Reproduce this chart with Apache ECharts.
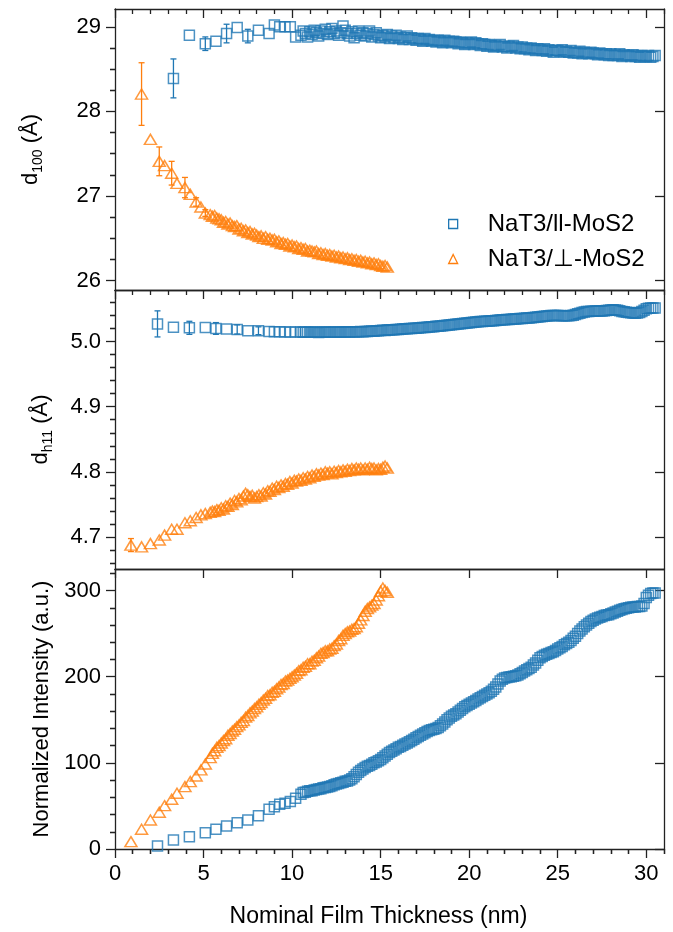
<!DOCTYPE html>
<html>
<head>
<meta charset="utf-8">
<script src="https://cdn.jsdelivr.net/npm/echarts@6.0.0/dist/echarts.min.js"></script>
<style>
  html, body { margin: 0; padding: 0; background: #fff; }
  #chart { width: 673px; height: 932px; }
</style>
</head>
<body>
<div id="chart"></div>
<script>
// ---- data ----
const NAME_PAR = 'NaT3/ll-MoS2'
const NAME_PERP = 'NaT3/⊥-MoS2'

// nominal thickness (nm); the first 15 (blue) / 12 (orange) entries are the sparse early points
const blueX = [2.4, 3.3, 4.2, 5.1, 5.7, 6.3, 6.9, 7.5, 8.1, 8.7, 9.0, 9.3, 9.6, 9.9, 10.2,
  10.5, 10.625, 10.75, 10.875,
  11, 11.125, 11.25, 11.375, 11.5, 11.625, 11.75, 11.875,
  12, 12.125, 12.25, 12.375, 12.5, 12.625, 12.75, 12.875,
  13, 13.125, 13.25, 13.375, 13.5, 13.625, 13.75, 13.875,
  14, 14.125, 14.25, 14.375, 14.5, 14.625, 14.75, 14.875,
  15, 15.125, 15.25, 15.375, 15.5, 15.625, 15.75, 15.875,
  16, 16.125, 16.25, 16.375, 16.5, 16.625, 16.75, 16.875,
  17, 17.125, 17.25, 17.375, 17.5, 17.625, 17.75, 17.875,
  18, 18.125, 18.25, 18.375, 18.5, 18.625, 18.75, 18.875,
  19, 19.125, 19.25, 19.375, 19.5, 19.625, 19.75, 19.875,
  20, 20.125, 20.25, 20.375, 20.5, 20.625, 20.75, 20.875,
  21, 21.125, 21.25, 21.375, 21.5, 21.625, 21.75, 21.875,
  22, 22.125, 22.25, 22.375, 22.5, 22.625, 22.75, 22.875,
  23, 23.125, 23.25, 23.375, 23.5, 23.625, 23.75, 23.875,
  24, 24.125, 24.25, 24.375, 24.5, 24.625, 24.75, 24.875,
  25, 25.125, 25.25, 25.375, 25.5, 25.625, 25.75, 25.875,
  26, 26.125, 26.25, 26.375, 26.5, 26.625, 26.75, 26.875,
  27, 27.125, 27.25, 27.375, 27.5, 27.625, 27.75, 27.875,
  28, 28.125, 28.25, 28.375, 28.5, 28.625, 28.75, 28.875,
  29, 29.125, 29.25, 29.375, 29.5, 29.625, 29.75, 29.875,
  30, 30.125, 30.25, 30.375, 30.5]
const orangeX = [0.9, 1.5, 2.0, 2.5, 2.8, 3.2, 3.5, 3.95, 4.25, 4.58, 4.85, 5.1,
  5.375, 5.5, 5.625, 5.75, 5.875,
  6, 6.125, 6.25, 6.375, 6.5, 6.625, 6.75, 6.875,
  7, 7.125, 7.25, 7.375, 7.5, 7.625, 7.75, 7.875,
  8, 8.125, 8.25, 8.375, 8.5, 8.625, 8.75, 8.875,
  9, 9.125, 9.25, 9.375, 9.5, 9.625, 9.75, 9.875,
  10, 10.125, 10.25, 10.375, 10.5, 10.625, 10.75, 10.875,
  11, 11.125, 11.25, 11.375, 11.5, 11.625, 11.75, 11.875,
  12, 12.125, 12.25, 12.375, 12.5, 12.625, 12.75, 12.875,
  13, 13.125, 13.25, 13.375, 13.5, 13.625, 13.75, 13.875,
  14, 14.125, 14.25, 14.375, 14.5, 14.625, 14.75, 14.875,
  15, 15.125, 15.25, 15.375]

// d100 (Å)
const d100Blue = [null, 28.39, 28.90, 28.80, 28.83, 28.92, 28.99, 28.89, 28.96, 28.92, 29.02, 29.00, 29.00, 29.00, 28.88,
  28.90, 28.95, 28.92, 28.88,
  28.94, 28.91, 28.96, 28.93, 28.89, 28.95, 28.92, 28.97,
  28.91, 28.94, 28.98, 28.92, 28.95, 28.90, 28.93, 29.01,
  28.96, 28.92, 28.89, 28.94, 28.87, 28.92, 28.95, 28.90,
  28.93, 28.89, 28.92, 28.95, 28.88, 28.91, 28.93, 28.89,
  28.87, 28.90, 28.88, 28.91, 28.86, 28.89, 28.87, 28.90,
  28.86, 28.88, 28.85, 28.87, 28.89, 28.85, 28.87, 28.86,
  28.84, 28.86, 28.85, 28.83, 28.86, 28.84, 28.85, 28.83,
  28.84, 28.82, 28.84, 28.83, 28.81, 28.84, 28.82, 28.83,
  28.81, 28.83, 28.82, 28.80, 28.82, 28.81, 28.79, 28.81,
  28.80, 28.82, 28.79, 28.81, 28.80, 28.78, 28.80, 28.79,
  28.77, 28.79, 28.78, 28.76, 28.78, 28.77, 28.79, 28.76,
  28.77, 28.75, 28.77, 28.76, 28.78, 28.75, 28.76, 28.74,
  28.76, 28.74, 28.75, 28.73, 28.75, 28.74, 28.72, 28.74,
  28.73, 28.72, 28.74, 28.71, 28.73, 28.72, 28.70, 28.72,
  28.72, 28.71, 28.73, 28.70, 28.71, 28.70, 28.72, 28.69,
  28.70, 28.69, 28.71, 28.68, 28.70, 28.69, 28.68, 28.70,
  28.69, 28.68, 28.67, 28.69, 28.68, 28.67, 28.68, 28.66,
  28.68, 28.66, 28.67, 28.66, 28.68, 28.65, 28.67, 28.66,
  28.66, 28.65, 28.67, 28.65, 28.66, 28.64, 28.66, 28.65,
  28.65, 28.66, 28.64, 28.65, 28.66]
const d100Orange = [null, 28.205, 27.67, 27.41, 27.36, 27.27, 27.15, 27.10, 27.02, 26.93, 26.87, 26.80,
  26.78, 26.76, 26.77, 26.74, 26.73,
  26.72, 26.69, 26.70, 26.67, 26.68, 26.65, 26.64, 26.65,
  26.61, 26.62, 26.59, 26.60, 26.57, 26.58, 26.55, 26.56,
  26.54, 26.52, 26.53, 26.50, 26.52, 26.49, 26.50, 26.48,
  26.49, 26.46, 26.47, 26.44, 26.45, 26.43, 26.44, 26.41,
  26.42, 26.40, 26.41, 26.38, 26.39, 26.37, 26.38, 26.35,
  26.36, 26.35, 26.34, 26.35, 26.32, 26.33, 26.31, 26.32,
  26.30, 26.31, 26.29, 26.30, 26.28, 26.29, 26.27, 26.28,
  26.26, 26.27, 26.25, 26.26, 26.24, 26.25, 26.23, 26.24,
  26.22, 26.23, 26.21, 26.22, 26.20, 26.21, 26.19, 26.20,
  26.18, 26.17, 26.18, 26.16]
const d100BlueErr = [0, 0.23, 0, 0.08, 0, 0.11, 0, 0.08, 0, 0, 0, 0, 0, 0, 0]
const d100OrangeErr = [0, 0.37, 0, 0.17, 0, 0.14, 0, 0.12, 0, 0.05, 0, 0.04]

// dh11 (Å)
const dh11Blue = [5.027, 5.022, 5.021, 5.0215, 5.020, 5.019, 5.0185, 5.0165, 5.0165, 5.0155, 5.015, 5.015, 5.0145, 5.0145, 5.0145,
  5.0145, 5.0142, 5.0146, 5.0141,
  5.0143, 5.0140, 5.0144, 5.0142, 5.0139, 5.0143, 5.0141, 5.0144,
  5.0140, 5.0143, 5.0141, 5.0145, 5.0142, 5.0146, 5.0143, 5.0147,
  5.0144, 5.0148, 5.0146, 5.0150, 5.0147, 5.0151, 5.0149, 5.0153,
  5.0151, 5.0155, 5.0153, 5.0158, 5.0160, 5.0158, 5.0163, 5.0165,
  5.0167, 5.0171, 5.0170, 5.0175, 5.0176, 5.0180, 5.0181, 5.0185,
  5.0184, 5.0189, 5.0190, 5.0194, 5.0195, 5.0199, 5.0198, 5.0203,
  5.0204, 5.0208, 5.0209, 5.0213, 5.0215, 5.0220, 5.0221, 5.0226,
  5.0227, 5.0232, 5.0232, 5.0238, 5.0241, 5.0247, 5.0251, 5.0255,
  5.0257, 5.0262, 5.0264, 5.0268, 5.0271, 5.0276, 5.0279, 5.0284,
  5.0287, 5.0292, 5.0295, 5.0299, 5.0302, 5.0306, 5.0307, 5.0310,
  5.0311, 5.0315, 5.0317, 5.0320, 5.0321, 5.0326, 5.0329, 5.0333,
  5.0335, 5.0338, 5.0339, 5.0342, 5.0344, 5.0347, 5.0349, 5.0352,
  5.0354, 5.0358, 5.0359, 5.0362, 5.0364, 5.0368, 5.0371, 5.0376,
  5.0379, 5.0384, 5.0387, 5.0391, 5.0394, 5.0397, 5.0397, 5.0399,
  5.0398, 5.0397, 5.0396, 5.0395, 5.0394, 5.0396, 5.0399, 5.0404,
  5.0413, 5.0424, 5.0434, 5.0445, 5.0454, 5.0459, 5.0462, 5.0463,
  5.0465, 5.0466, 5.0466, 5.0467, 5.0469, 5.0472, 5.0477, 5.0481,
  5.0485, 5.0487, 5.0485, 5.0479, 5.0470, 5.0462, 5.0455, 5.0450,
  5.0445, 5.0440, 5.0437, 5.0435, 5.0438, 5.0445, 5.0462, 5.0480,
  5.0502, 5.0510, 5.0514, 5.0515, 5.0515]
const dh11Orange = [4.6877, 4.685, 4.690, 4.6954, 4.703, 4.712, 4.712, 4.722, 4.725, 4.730, 4.734, 4.736,
  4.738, 4.740, 4.739, 4.742, 4.741,
  4.745, 4.743, 4.748, 4.747, 4.752, 4.750, 4.756, 4.754,
  4.759, 4.757, 4.763, 4.767, 4.765, 4.762, 4.764, 4.760,
  4.762, 4.765, 4.763, 4.768, 4.766, 4.771, 4.770, 4.775,
  4.773, 4.778, 4.776, 4.780, 4.778, 4.782, 4.781, 4.785,
  4.783, 4.787, 4.786, 4.789, 4.787, 4.791, 4.789, 4.793,
  4.791, 4.795, 4.793, 4.797, 4.795, 4.798, 4.796, 4.800,
  4.798, 4.800, 4.797, 4.801, 4.799, 4.802, 4.800, 4.803,
  4.801, 4.804, 4.802, 4.805, 4.803, 4.806, 4.804, 4.806,
  4.803, 4.806, 4.804, 4.807, 4.805, 4.806, 4.803, 4.805,
  4.804, 4.807, 4.809, 4.806]
const dh11BlueErr = [0.020, 0, 0.010, 0, 0.009, 0, 0.007, 0, 0.006, 0, 0, 0, 0, 0, 0]
const dh11OrangeErr = [0.010, 0, 0, 0, 0, 0, 0, 0, 0, 0, 0, 0]

// normalized intensity (a.u.)
const intBlue = [3.5, 10.5, 14.3, 19, 22.9, 26.7, 30.6, 33.7, 38.7, 46, 49, 51.8, 53, 55, 58.8,
  63.5, 65.5, 66, 67,
  67.5, 67.5, 68.5, 69, 69.5, 70, 71, 71.5,
  72, 72.5, 73.5, 74.5, 75.5, 76, 77, 77.5,
  78.5, 79, 80, 81.5, 84, 86.5, 89, 91,
  93, 94.5, 96, 97, 98.5, 100, 101, 102.5,
  104, 106, 108, 110, 112, 113.5, 115, 116.5,
  118, 119, 120.5, 122, 123, 124.5, 126, 127.5,
  129, 130.5, 132, 133.5, 135, 136.5, 137.5, 138.5,
  139, 140, 141, 143, 145, 147.5, 150, 152,
  154, 155.5, 157, 159, 161, 163, 165, 166.5,
  168, 169.5, 171, 172.5, 174, 175.5, 177, 178.5,
  180, 181.5, 183, 185.5, 188, 191.5, 195, 197,
  198.5, 199, 199.5, 200, 200.5, 201, 202, 203.5,
  205, 206.5, 208, 209.5, 211, 213.5, 216, 219,
  222, 223.5, 225, 226, 227, 228, 229, 230.5,
  232, 233.5, 235, 237, 238.5, 240, 242, 244.5,
  247, 250, 253, 255.5, 258, 260, 262, 264,
  265.5, 267, 268, 269, 270, 271, 271.5, 272,
  273, 274, 275, 276, 277, 278, 279, 279.5,
  280, 280.5, 281, 281, 281.5, 281.5, 282, 285,
  292, 294.5, 296.5, 297, 297]
const intOrange = [8.5, 22.9, 33.7, 42.6, 50.3, 57.7, 64.7, 72.4, 78.2, 84.8, 91.8, 98.7,
  106, 111, 114, 118, 120,
  123, 126, 128, 132, 134, 137, 139, 142,
  144, 147, 149, 153, 155, 158, 160, 163,
  165, 168, 170, 173, 175, 178, 179, 182,
  183, 186, 188, 191, 192, 195, 196, 198,
  200, 202, 204, 207, 208, 211, 212, 215,
  215, 218, 219, 222, 224, 227, 228, 230,
  230, 232, 233, 236, 238, 242, 244, 248,
  250, 252, 253, 255, 256, 258, 262, 266,
  271, 276, 279, 281, 283, 285, 289, 294,
  299, 303, 300, 298]

// ticks
const xMajor = [0, 5, 10, 15, 20, 25, 30]
const xMinor = [1, 2, 3, 4, 6, 7, 8, 9, 11, 12, 13, 14, 16, 17, 18, 19, 21, 22, 23, 24, 26, 27, 28, 29, 31]
const d100Major = [26, 27, 28, 29]
const d100Minor = [26.25, 26.5, 26.75, 27.25, 27.5, 27.75, 28.25, 28.5, 28.75]
const dh11Major = [4.7, 4.8, 4.9, 5.0]
const dh11Minor = [4.66, 4.68, 4.72, 4.74, 4.76, 4.78, 4.82, 4.84, 4.86, 4.88, 4.92, 4.94, 4.96, 4.98, 5.02, 5.04, 5.06]
const intMajor = [0, 100, 200, 300]
const intMinor = [20, 40, 60, 80, 120, 140, 160, 180, 220, 240, 260, 280, 320]

// ---- chart ----
const BLUE = '#1f77b4'
const ORANGE = '#ff7f0e'
const AXIS = '#222'
const FONT = '"Liberation Sans", Arial, sans-serif'

const panels = [
  { top: 9, height: 281, min: 25.89, max: 29.21, major: d100Major, minor: d100Minor, digits: 0,
    name: '{b|d}{s|100}{b| (Å)}', gap: 70, blue: d100Blue, orange: d100Orange, blueErr: d100BlueErr, orangeErr: d100OrangeErr },
  { top: 290, height: 279, min: 4.651, max: 5.079, major: dh11Major, minor: dh11Minor, digits: 1,
    name: '{b|d}{s|h11}{b| (Å)}', gap: 60, blue: dh11Blue, orange: dh11Orange, blueErr: dh11BlueErr, orangeErr: dh11OrangeErr },
  { top: 569, height: 280, min: 0, max: 325, major: intMajor, minor: intMinor, digits: 0,
    name: 'Normalized Intensity (a.u.)', gap: 60, blue: intBlue, orange: intOrange, blueErr: null, orangeErr: null }
]

const grid = []
const xAxis = []
const yAxis = []
const series = []

function tickStyle(values, len, inside) {
  return { show: true, inside: inside, length: len, customValues: values, lineStyle: { color: AXIS, width: 1.3 } }
}

function pairs(xs, ys) {
  const out = []
  xs.forEach((x, i) => { if (ys[i] != null) out.push([x, ys[i]]) })
  return out
}

function errData(xs, ys, errs) {
  const out = []
  if (!errs) return out
  errs.forEach((e, i) => { if (e > 0 && ys[i] != null) out.push([xs[i], ys[i], e]) })
  return out
}

function errorBars(name, color, data, xi, yi) {
  return {
    type: 'custom', name: name, xAxisIndex: xi, yAxisIndex: yi, data: data, z: 3,
    encode: { x: 0, y: 1 },
    renderItem(params, api) {
      const x = api.value(0), y = api.value(1), e = api.value(2)
      const hi = api.coord([x, y + e])
      const lo = api.coord([x, y - e])
      const w = 3
      const st = { stroke: color, lineWidth: 1.3 }
      return {
        type: 'group',
        children: [
          { type: 'line', shape: { x1: hi[0], y1: hi[1], x2: lo[0], y2: lo[1] }, style: st },
          { type: 'line', shape: { x1: hi[0] - w, y1: hi[1], x2: hi[0] + w, y2: hi[1] }, style: st },
          { type: 'line', shape: { x1: lo[0] - w, y1: lo[1], x2: lo[0] + w, y2: lo[1] }, style: st }
        ]
      }
    }
  }
}

panels.forEach((p, g) => {
  grid.push({ left: 115, width: 549, top: p.top, height: p.height })
  const last = g === panels.length - 1
  const base = { type: 'value', gridIndex: g, min: 0, max: 31, splitLine: { show: false }, axisLine: { show: false }, axisLabel: { show: false } }

  // bottom x axis (labels only on the last panel)
  const xi = xAxis.length
  xAxis.push(Object.assign({}, base, {
    position: 'bottom',
    axisLine: { show: true, onZero: false, lineStyle: { color: AXIS, width: 1.3 } },
    axisTick: last ? tickStyle(xMajor, 9, false) : { show: false },
    axisLabel: last ? { show: true, customValues: xMajor, margin: 14, fontSize: 22, fontFamily: FONT, color: '#000' } : { show: false },
    name: last ? 'Nominal Film Thickness (nm)' : '',
    nameLocation: 'middle', nameGap: 56,
    nameTextStyle: { fontSize: 23, fontFamily: FONT, color: '#000', padding: [0, 22, 0, 0] }
  }))
  if (last) xAxis.push(Object.assign({}, base, { position: 'bottom', axisTick: tickStyle(xMinor, 5, false) }))
  // top x axis, inward ticks
  xAxis.push(Object.assign({}, base, {
    position: 'top',
    axisLine: { show: true, onZero: false, lineStyle: { color: AXIS, width: 1.3 } },
    axisTick: tickStyle(xMajor, 9, true)
  }))
  xAxis.push(Object.assign({}, base, { position: 'top', axisTick: tickStyle(xMinor, 5, true) }))

  const ybase = { type: 'value', gridIndex: g, min: p.min, max: p.max, splitLine: { show: false }, axisLine: { show: false }, axisLabel: { show: false } }
  const yi = yAxis.length
  yAxis.push(Object.assign({}, ybase, {
    position: 'left',
    axisLine: { show: true, onZero: false, lineStyle: { color: AXIS, width: 1.3 } },
    axisTick: tickStyle(p.major, 9, false),
    axisLabel: {
      show: true, customValues: p.major, margin: 14, fontSize: 22, fontFamily: FONT, color: '#000',
      formatter: v => Number(v).toFixed(p.digits)
    },
    name: p.name, nameLocation: 'middle', nameGap: p.gap,
    nameTextStyle: {
      fontSize: 22, fontFamily: FONT, color: '#000',
      rich: {
        b: { fontSize: 22, fontFamily: FONT, color: '#000', lineHeight: 28 },
        s: { fontSize: 14, fontFamily: FONT, color: '#000', lineHeight: 14, verticalAlign: 'bottom' }
      }
    }
  }))
  yAxis.push(Object.assign({}, ybase, { position: 'left', axisTick: tickStyle(p.minor, 5, false) }))
  yAxis.push(Object.assign({}, ybase, {
    position: 'right',
    axisLine: { show: true, onZero: false, lineStyle: { color: AXIS, width: 1.3 } },
    axisTick: tickStyle(p.major, 9, true)
  }))
  yAxis.push(Object.assign({}, ybase, { position: 'right', axisTick: tickStyle(p.minor, 5, true) }))

  series.push(errorBars(NAME_PAR, BLUE, errData(blueX, p.blue, p.blueErr), xi, yi))
  series.push(errorBars(NAME_PERP, ORANGE, errData(orangeX, p.orange, p.orangeErr), xi, yi))
  series.push({
    type: 'scatter', name: NAME_PAR, xAxisIndex: xi, yAxisIndex: yi,
    data: pairs(blueX, p.blue), symbol: 'rect', symbolSize: 10,
    itemStyle: { color: 'rgba(0,0,0,0)', borderColor: BLUE, borderWidth: 1.5 }
  })
  series.push({
    type: 'scatter', name: NAME_PERP, xAxisIndex: xi, yAxisIndex: yi,
    data: pairs(orangeX, p.orange), symbol: 'triangle', symbolSize: [12, 10],
    itemStyle: { color: 'rgba(0,0,0,0)', borderColor: ORANGE, borderWidth: 1.5 }
  })
})

const chart = echarts.init(document.getElementById('chart'))
chart.setOption({
  animation: false,
  backgroundColor: '#fff',
  grid: grid,
  xAxis: xAxis,
  yAxis: yAxis,
  legend: {
    left: 448, top: 212, orient: 'vertical', padding: 0,
    itemWidth: 9, itemHeight: 9, itemGap: 11, selectedMode: false,
    textStyle: { fontSize: 24, fontFamily: FONT, color: '#000', padding: [0, 0, 0, 25] },
    data: [
      { name: NAME_PAR, icon: 'rect', itemStyle: { color: 'rgba(0,0,0,0)', borderColor: BLUE, borderWidth: 1.3 } },
      { name: NAME_PERP, icon: 'triangle', itemStyle: { color: 'rgba(0,0,0,0)', borderColor: ORANGE, borderWidth: 1.3 } }
    ]
  },
  series: series
})
</script>
</body>
</html>
